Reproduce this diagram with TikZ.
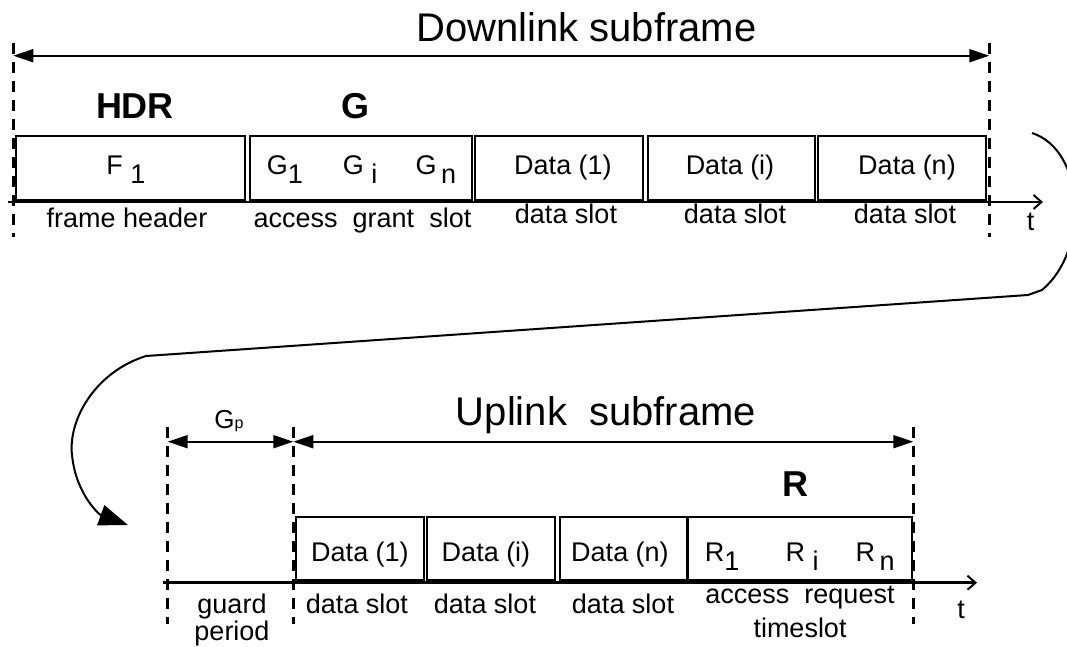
\documentclass[tikz,border=0pt]{standalone}
\usepackage{fontspec}
\setmainfont{Liberation Sans}
\usetikzlibrary{arrows.meta}
\tikzset{Slot Box/.style = {line width = 2.2pt},
  Time Axis/.style = {line width = 2.5pt, -{Straight Barb[length = 8pt, width = 14pt, line width = 2pt]}},
  Span Arrow/.style = {line width = 1.8pt, {Triangle[length = 20pt, width = 13pt]}-{Triangle[length = 20pt, width = 13pt]}},
  Bound Line/.style = {line width = 2.6pt, dash pattern = on 11pt off 8pt},
  Loop Line/.style = {line width = 2pt, -{Triangle[length = 29pt, width = 21pt]}},
  Slot Text/.style = {font = \fontsize{27}{30}\selectfont, anchor = base, inner sep = 0pt},
  Big Text/.style = {font = \fontsize{40}{44}\selectfont, anchor = base, inner sep = 0pt},
  Bold Text/.style = {font = \fontsize{36}{40}\selectfont\bfseries, anchor = base, inner sep = 0pt}}
\newcommand\lowsub[1]{\raisebox{-9pt}{#1}}

\begin{document}
\begin{tikzpicture}[x = 1pt, y = -1pt]
  \useasboundingbox (0, 0) rectangle (1067, 647);

  \coordinate (DL) at (13.3, 55.7);
  \coordinate (DR) at (989.3, 55.7);
  \coordinate (UG) at (167.7, 441.7);
  \coordinate (UL) at (293.3, 441.7);
  \coordinate (UR) at (913.3, 441.7);

  \draw[Bound Line] (DL) ++(0, -12.7) -- ++(0, 194);
  \draw[Bound Line] (DR) ++(0, -12.7) -- ++(0, 194);
  \draw[Span Arrow] (DL) -- (DR);
  \node[Big Text] (dltitle) at (586.5, 41.7) {Downlink subframe};

  \node[Bold Text] (hdr) at (135, 118.3) {HDR};
  \node[Bold Text] (gnt) at (355, 118.3) {G};

  \draw[Slot Box] (15.7, 135.7) rectangle (245, 200);
  \draw[Slot Box] (250, 135.7) rectangle (471.7, 200);
  \draw[Slot Box] (475, 135.7) rectangle (642.7, 200);
  \draw[Slot Box] (647.7, 135.7) rectangle (815, 200);
  \draw[Slot Box] (818.3, 135.7) rectangle (986, 200);

  \node[Slot Text] (f1) at (126, 175) {F\ \lowsub{1}};
  \node[Slot Text] (g1) at (285, 175) {G\lowsub{1}};
  \node[Slot Text] (gi) at (360, 175) {G\ \lowsub{i}};
  \node[Slot Text] (gn) at (436, 175) {G\,\lowsub{n}};
  \node[Slot Text] (dd1) at (563, 175) {Data (1)};
  \node[Slot Text] (ddi) at (730, 175) {Data (i)};
  \node[Slot Text] (ddn) at (907, 175) {Data (n)};

  \coordinate (TA) at (8.3, 202);
  \coordinate (TB) at (1043, 202);
  \draw[Time Axis] (TA) -- (TB);
  \node[Slot Text] (tdl) at (1030.7, 230) {t};

  \node[Slot Text] (fhdr) at (127, 227) {frame header};
  \node[Slot Text] (ags) at (362.5, 227) {access\ \ grant\ \ slot};
  \node[Slot Text] (ds1) at (566, 223) {data slot};
  \node[Slot Text] (ds2) at (735, 223) {data slot};
  \node[Slot Text] (ds3) at (905, 223) {data slot};

  \coordinate (LT) at (1032, 133);
  \coordinate (LB) at (1028, 295);
  \coordinate (LL) at (146, 356);
  \coordinate (LE) at (128, 525);
  \draw[Loop Line] (LT) .. controls (1085, 150) and (1090, 250) .. (1042, 290) --
  (LB) -- (LL) .. controls (95, 372) and (68, 420) .. (72, 455) .. controls
  (76, 495) and (100, 515) .. (LE);

  \draw[Bound Line] (UG) ++(0, -14.7) -- ++(0, 197);
  \draw[Bound Line] (UL) ++(0, -14.7) -- ++(0, 197);
  \draw[Bound Line] (UR) ++(0, -14.7) -- ++(0, 197);
  \draw[Span Arrow] (UG) -- (UL);
  \draw[Span Arrow] (UL) -- (UR);
  \node[anchor = base, inner sep = 0pt] (gp) at (229, 428)
  {\fontsize{26}{28}\selectfont G\fontsize{16}{18}\selectfont p};
  \node[Big Text] (ultitle) at (606, 425) {Uplink\ \ subframe};
  \node[Bold Text] (req) at (795, 496.7) {R};

  \draw[Slot Box] (296, 516.7) rectangle (424, 580.5);
  \draw[Slot Box] (426.7, 516.7) rectangle (555, 580.5);
  \draw[Slot Box] (560, 516.7) rectangle (686.7, 580.5);
  \draw[Slot Box] (688.3, 516.7) rectangle (911.7, 580.5);

  \node[Slot Text] (ud1) at (360, 561.7) {Data (1)};
  \node[Slot Text] (udi) at (486, 561.7) {Data (i)};
  \node[Slot Text] (udn) at (620, 561.7) {Data (n)};
  \node[Slot Text] (r1) at (722, 561.7) {R\lowsub{1}};
  \node[Slot Text] (ri) at (802, 561.7) {R\ \lowsub{i}};
  \node[Slot Text] (rn) at (875, 561.7) {R\,\lowsub{n}};

  \coordinate (BA) at (162.7, 582.7);
  \coordinate (BB) at (977, 582.7);
  \draw[Time Axis] (BA) -- (BB);
  \node[Slot Text] (tul) at (961, 618) {t};

  \node[Slot Text] (grd) at (232, 613) {guard};
  \node[Slot Text] (prd) at (232, 640) {period};
  \node[Slot Text] (us1) at (357, 613) {data slot};
  \node[Slot Text] (us2) at (485, 613) {data slot};
  \node[Slot Text] (us3) at (623, 613) {data slot};
  \node[Slot Text] (acr) at (800, 603) {access\ \ request};
  \node[Slot Text] (tsl) at (800, 637) {timeslot};
\end{tikzpicture}
\end{document}
